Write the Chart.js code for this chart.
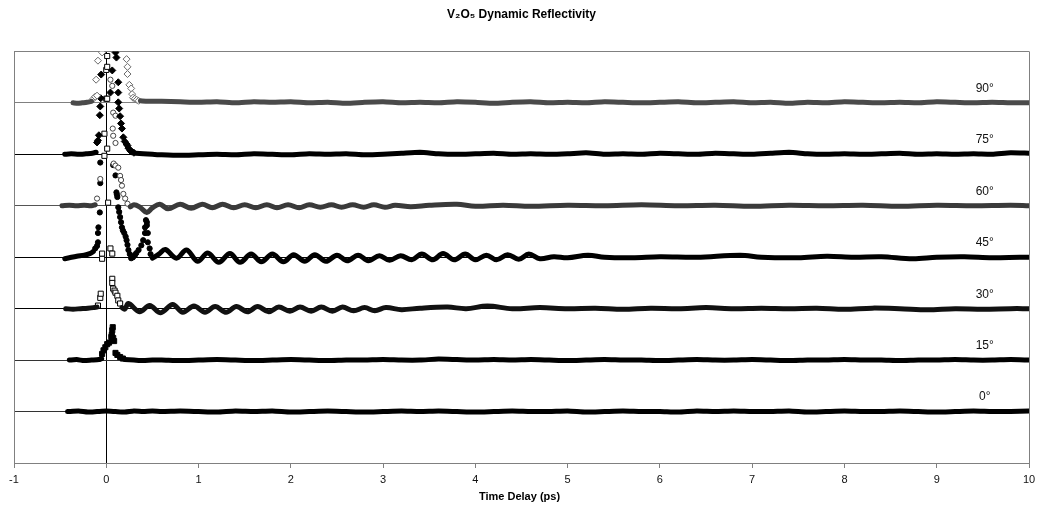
<!DOCTYPE html>
<html>
<head>
<meta charset="utf-8">
<script src="https://cdn.jsdelivr.net/npm/chart.js@4.4.1/dist/chart.umd.min.js"></script>
<style>
  html, body { margin: 0; padding: 0; background: #fff; }
</style>
</head>
<body>
<canvas id="chart" width="1038" height="510"></canvas>
<script>
const angles = ["90°", "75°", "60°", "45°", "30°", "15°", "0°"];
const offsets = [6, 5, 4, 3, 2, 1, 0];
const xTicks = [-1, 0, 1, 2, 3, 4, 5, 6, 7, 8, 9, 10];
const yLines = [-1, 0, 1, 2, 3, 4, 5, 6, 7];

// shared sampling of the flat tails, ps
const coarseTime = [0.6, 0.8, 1.0, 1.2, 1.4, 1.6, 1.8, 2.0, 2.2, 2.4, 2.6, 2.8, 3.0, 3.2, 3.4, 3.6,
  3.8, 4.0, 4.2, 4.4, 4.6, 4.8, 5.0, 5.2, 5.4, 5.6, 5.8, 6.0, 6.2, 6.4, 6.6, 6.8, 7.0, 7.2, 7.4,
  7.6, 7.8, 8.0, 8.2, 8.4, 8.6, 8.8, 9.0, 9.2, 9.4, 9.6, 9.8, 10.0];

// 90°
const pre90T = [-0.36, -0.31, -0.26, -0.21, -0.16];
const pre90R = [0.0, -0.01, 0.0, 0.01, 0.03];
const spike90T = [-0.14, -0.12, -0.10, -0.11, -0.09, -0.045, 0.22, 0.23, 0.23, 0.25, 0.27, 0.28, 0.29, 0.31, 0.33, 0.35];
const spike90R = [0.08, 0.12, 0.14, 0.45, 0.82, 0.98, 0.85, 0.70, 0.56, 0.35, 0.28, 0.17, 0.10, 0.08, 0.06, 0.04];
const post90T = [0.37, 0.45, ...coarseTime];
const post90R = [0.04, 0.03, 0.03, 0.02, 0.01, 0.02, 0.0, 0.02, 0.01, 0.02, 0.0, 0.01,
  -0.01, 0.01, 0.02, 0.0, 0.01, 0.0, 0.02, 0.01, -0.01, 0.01, 0.02, 0.0, 0.01, 0.0, 0.02, 0.01,
  0.0, 0.01, 0.02, 0.0, 0.01, 0.02, 0.0, 0.01, -0.01, 0.01, 0.0, 0.02, 0.01, 0.0, 0.01, 0.0,
  0.02, 0.01, 0.0, 0.01, 0.0, 0.0];

// 75°
const pre75T = [-0.45, -0.38, -0.30, -0.22, -0.15, -0.11];
const pre75R = [0.0, 0.01, 0.0, 0.01, 0.02, 0.04];
const spike75T = [-0.10, -0.09, -0.08, -0.07, -0.065, -0.06, -0.055, 0.045, 0.065, 0.10, 0.11, 0.13, 0.13, 0.13,
  0.14, 0.15, 0.16, 0.17, 0.185, 0.20, 0.22, 0.23, 0.24, 0.26, 0.28, 0.30];
const spike75R = [0.23, 0.27, 0.37, 0.76, 0.93, 1.09, 1.55, 1.20, 1.63, 1.98, 1.88, 1.40, 1.20, 1.01,
  0.89, 0.74, 0.60, 0.50, 0.33, 0.25, 0.20, 0.17, 0.12, 0.07, 0.05, 0.03];
const post75T = [0.32, 0.4, 0.5, ...coarseTime];
const post75R = [0.02, 0.01, 0.0, -0.01, -0.02, -0.01, 0.0, -0.01, 0.01, 0.0, -0.01, 0.01, 0.0,
  0.01, -0.01, 0.0, 0.02, 0.04, 0.01, 0.0, 0.01, 0.02, 0.0, 0.01, 0.0, 0.01, 0.03, 0.0, 0.01,
  0.0, 0.02, 0.01, 0.0, 0.02, 0.01, 0.0, 0.02, 0.04, 0.01, 0.0, 0.01, 0.0, 0.01, 0.02, 0.0,
  0.01, 0.0, 0.01, 0.0, 0.03, 0.02];

// 60°
const pre60T = [-0.48, -0.40, -0.32, -0.24, -0.16, -0.12];
const pre60R = [0.0, 0.01, 0.0, 0.01, 0.0, 0.02];
const spike60T = [-0.10, -0.065, 0.045, 0.065, 0.07, 0.075, 0.075, 0.08, 0.10, 0.10, 0.10, 0.13, 0.15, 0.16, 0.17, 0.185, 0.205, 0.23];
const spike60R = [0.14, 0.52, 2.45, 2.33, 1.50, 1.81, 1.36, 0.82, 1.75, 1.22, 0.78, 0.74, 0.58, 0.50, 0.39, 0.23, 0.14, 0.04];
const post60T = [0.26, 0.30, 0.36, 0.44, 0.50, 0.58, 0.67, 0.80, 0.92, 1.04, 1.15, 1.26, 1.38, 1.50,
  1.62, 1.74, 1.85, 1.97, 2.09, 2.20, 2.32, 2.44, 2.55, 2.67, 2.79, 2.90, 3.02, 3.13, 3.3, 3.5,
  3.8, 4.0, 4.3, 4.6, 5.0, 5.4, 5.8, 6.2, 6.6, 7.0, 7.4, 7.8, 8.2, 8.6, 9.0, 9.4, 9.8, 10.0];
const post60R = [-0.02, 0.02, -0.02, -0.13, -0.04, 0.03, -0.06, 0.03, -0.05, 0.03, -0.04, 0.03, -0.04, 0.02,
  -0.04, 0.02, -0.04, 0.02, -0.04, 0.02, -0.03, 0.02, -0.03, 0.02, -0.03, 0.02, -0.03, 0.01, -0.02, 0.01,
  0.03, -0.01, 0.01, -0.01, 0.01, 0.0, 0.02, 0.0, 0.01, -0.01, 0.01, 0.0, 0.01, -0.01, 0.01, 0.0, 0.01, 0.0];

// 45°
const pre45T = [-0.45, -0.40, -0.32, -0.24, -0.18, -0.14];
const pre45R = [-0.03, -0.01, 0.02, 0.04, 0.07, 0.11];
const spike45T = [-0.12, -0.10, -0.09, -0.09, -0.085, -0.07, -0.065, -0.065, 0.075, 0.10, 0.11, 0.115, 0.12, 0.13,
  0.14, 0.15, 0.16, 0.17, 0.18, 0.195, 0.21, 0.22, 0.23, 0.24, 0.255, 0.27, 0.29, 0.31, 0.325, 0.35,
  0.38, 0.40, 0.42, 0.42, 0.43, 0.44, 0.44, 0.45, 0.45, 0.47, 0.48];
const spike45R = [0.17, 0.22, 0.29, 0.47, 0.58, 0.87, 1.44, 1.84, 1.79, 1.59, 1.26, 1.22, 1.17, 0.97,
  0.88, 0.78, 0.68, 0.58, 0.52, 0.47, 0.40, 0.33, 0.24, 0.14, 0.06, -0.02, 0.0, 0.04, 0.08, 0.14,
  0.23, 0.33, 0.47, 0.58, 0.72, 0.68, 0.62, 0.47, 0.29, 0.17, 0.06];
const post45T = [0.50, 0.57, 0.64, 0.76, 0.87, 0.99, 1.10, 1.22, 1.34, 1.45, 1.57, 1.68, 1.80, 1.92,
  2.03, 2.15, 2.26, 2.38, 2.50, 2.61, 2.73, 2.84, 2.96, 3.07, 3.19, 3.31, 3.42, 3.54, 3.65, 3.77,
  3.89, 4.00, 4.12, 4.23, 4.35, 4.47, 4.58, 4.70, 4.85, 5.0, 5.22, 5.4, 5.7, 6.0, 6.4, 6.87, 7.1,
  7.5, 7.81, 8.1, 8.4, 8.74, 9.0, 9.3, 9.6, 9.9, 10.0];
const post45R = [-0.02, 0.06, 0.15, -0.02, 0.14, -0.08, 0.08, -0.10, 0.07, -0.10, 0.06, -0.09, 0.06, -0.09,
  0.05, -0.08, 0.05, -0.08, 0.04, -0.07, 0.04, -0.07, 0.03, -0.06, 0.03, -0.05, 0.06, -0.05, 0.07, -0.05,
  0.06, -0.05, 0.04, -0.05, 0.05, -0.04, 0.06, -0.03, 0.01, -0.01, 0.04, 0.0, -0.01, 0.01, 0.0, 0.04, 0.0,
  -0.01, 0.02, 0.0, 0.01, -0.03, 0.0, 0.01, -0.01, 0.0, 0.0];

// 30°
const pre30T = [-0.44, -0.36, -0.28, -0.20, -0.14, -0.10];
const pre30R = [0.0, -0.01, 0.0, 0.01, 0.02, 0.03];
const spike30T = [-0.09, -0.065, -0.06, -0.045, -0.045, -0.02, -0.02, 0.0, 0.0, 0.01, 0.01, 0.01, 0.01, 0.02,
  0.045, 0.065, 0.065, 0.065, 0.075, 0.09, 0.10, 0.12, 0.13, 0.15];
const spike30R = [0.06, 0.21, 0.29, 0.97, 1.07, 2.97, 3.40, 4.08, 4.64, 4.91, 4.70, 4.08, 3.11, 2.06,
  1.17, 1.07, 0.58, 0.50, 0.39, 0.35, 0.31, 0.25, 0.16, 0.10];
const post30T = [0.17, 0.20, 0.24, 0.36, 0.47, 0.59, 0.72, 0.83, 0.95, 1.07, 1.18, 1.30, 1.41, 1.53,
  1.64, 1.76, 1.87, 1.99, 2.10, 2.22, 2.33, 2.45, 2.56, 2.68, 2.80, 2.91, 3.03, 3.2, 3.4, 3.7,
  3.9, 4.13, 4.4, 4.7, 5.0, 5.3, 5.6, 5.9, 6.2, 6.5, 6.8, 7.1, 7.4, 7.7, 8.0, 8.3, 8.6, 8.9, 9.2,
  9.5, 9.8, 10.0];
const post30R = [0.02, -0.01, 0.10, -0.06, 0.06, -0.08, 0.08, -0.07, 0.05, -0.07, 0.04, -0.07, 0.04, -0.06,
  0.04, -0.06, 0.03, -0.05, 0.03, -0.05, 0.03, -0.05, 0.03, -0.04, 0.02, -0.04, 0.02, -0.02, 0.01, 0.03,
  0.0, 0.05, 0.0, 0.02, 0.0, 0.01, -0.01, 0.01, 0.0, 0.02, 0.0, 0.01, 0.0, 0.01, -0.01, 0.01, 0.0, -0.02,
  0.0, -0.01, 0.0, 0.0];

// 15°
const pre15T = [-0.40, -0.32, -0.24, -0.16, -0.08, -0.05];
const pre15R = [0.0, 0.01, -0.01, 0.0, 0.01, 0.03];
const spike15T = [-0.045, -0.03, -0.01, 0.01, 0.03, 0.055, 0.06, 0.065, 0.07, 0.075, 0.085, 0.10, 0.12, 0.15, 0.18];
const spike15R = [0.12, 0.19, 0.25, 0.31, 0.34, 0.45, 0.49, 0.58, 0.64, 0.43, 0.37, 0.14, 0.10, 0.06, 0.03];
const post15T = [0.2, 0.3, 0.4, 0.5, ...coarseTime];
const post15R = [0.01, 0.0, -0.01, 0.0, 0.0, -0.01, 0.0, 0.01, 0.0, -0.01, 0.0, 0.01, 0.0, -0.01,
  0.0, 0.0, 0.01, 0.0, 0.0, 0.02, 0.01, 0.0, 0.01, 0.0, 0.01, 0.0, -0.01, 0.0, 0.01, 0.0, 0.0, -0.01,
  0.0, 0.01, 0.0, 0.0, 0.01, 0.0, -0.01, 0.0, 0.0, 0.01, 0.0, 0.0, -0.01, 0.0, 0.0, 0.01, 0.0, 0.0,
  0.01, 0.0];

// 0°
const post0T = [-0.42, -0.3, -0.2, -0.1, 0.0, 0.1, 0.2, 0.3, 0.4, 0.5, ...coarseTime];
const post0R = [0.0, 0.01, -0.01, 0.0, 0.01, 0.0, -0.01, 0.01, 0.0, 0.01, 0.0, 0.01, 0.0, -0.01,
  0.01, 0.0, 0.01, -0.01, 0.0, 0.01, 0.0, -0.01, 0.0, 0.01, 0.0, 0.01, 0.0, -0.01, 0.0, 0.01, 0.0,
  0.0, 0.01, -0.01, 0.0, 0.01, 0.0, 0.0, -0.01, 0.01, 0.0, 0.01, 0.0, 0.0, 0.01, -0.01, 0.0, 0.01,
  0.0, 0.0, 0.01, 0.0, -0.01, 0.0, 0.01, 0.0, 0.0, 0.01];

const labelTime = 9.52;
const labelRise = 0.28;
const xTitle = "Time Delay (ps)";
const FONT = '"Liberation Sans", Arial, sans-serif';

const traces = [
  { pre: [pre90T, pre90R], spike: [spike90T, spike90R], post: [post90T, post90R],
    band: "#4a4a4a", shape: "rectRot", fill: "#ffffff", edge: "#6a6a6a", r: 3.5, tension: 0.2 },
  { pre: [pre75T, pre75R], spike: [spike75T, spike75R], post: [post75T, post75R],
    band: "#000000", shape: "rectRot", fill: "#000000", edge: "#000000", r: 3.5, tension: 0.2 },
  { pre: [pre60T, pre60R], spike: [spike60T, spike60R], post: [post60T, post60R],
    band: "#3a3a3a", shape: "circle", fill: "#ffffff", edge: "#444444", r: 2.6, tension: 0.35 },
  { pre: [pre45T, pre45R], spike: [spike45T, spike45R], post: [post45T, post45R],
    band: "#000000", shape: "circle", fill: "#000000", edge: "#000000", r: 2.6, tension: 0.35 },
  { pre: [pre30T, pre30R], spike: [spike30T, spike30R], post: [post30T, post30R],
    band: "#111111", shape: "rect", fill: "#ffffff", edge: "#000000", r: 3.6, tension: 0.35 },
  { pre: [pre15T, pre15R], spike: [spike15T, spike15R], post: [post15T, post15R],
    band: "#000000", shape: "rect", fill: "#000000", edge: "#000000", r: 3.6, tension: 0.2 },
  { pre: null, spike: null, post: [post0T, post0R],
    band: "#000000", shape: "triangle", fill: "#000000", edge: "#000000", r: 3, tension: 0.2 }
];

const lineColors = { "-1": "rgba(0,0,0,0)", "0": "#333333", "1": "#333333", "2": "#000000",
  "3": "#000000", "4": "#555555", "5": "#000000", "6": "#808080", "7": "#808080" };

function toPoints(pair, off) {
  const [T, R] = pair;
  return T.map((t, i) => ({ x: t, y: R[i] + off }));
}

function bandSet(pair, off, t) {
  return {
    data: toPoints(pair, off),
    showLine: true,
    borderColor: t.band,
    borderWidth: 5,
    borderJoinStyle: "round",
    borderCapStyle: "round",
    tension: t.tension,
    pointRadius: 0,
    fill: false
  };
}

const datasets = [];
traces.forEach((t, i) => {
  const off = offsets[i];
  if (t.pre) datasets.push(bandSet(t.pre, off, t));
  datasets.push(bandSet(t.post, off, t));
  if (t.spike) {
    datasets.push({
      data: toPoints(t.spike, off),
      showLine: false,
      pointStyle: t.shape,
      pointRadius: t.r,
      pointBackgroundColor: t.fill,
      pointBorderColor: t.edge,
      pointBorderWidth: 1
    });
  }
});

// angle labels at the right end of each trace, plus the x axis title
const angleLabels = {
  id: "angleLabels",
  afterDraw(chart) {
    const { ctx, chartArea, scales: { x, y } } = chart;
    ctx.save();
    ctx.font = "12px " + FONT;
    ctx.fillStyle = "#111";
    ctx.textAlign = "center";
    ctx.textBaseline = "middle";
    angles.forEach((a, i) => {
      ctx.fillText(a, x.getPixelForValue(labelTime), y.getPixelForValue(offsets[i] + labelRise));
    });
    ctx.font = "bold 11px " + FONT;
    ctx.fillStyle = "#000";
    ctx.fillText(xTitle, (chartArea.left + chartArea.right) / 2 - 2, chartArea.bottom + 34);
    ctx.restore();
  }
};

new Chart(document.getElementById("chart"), {
  type: "scatter",
  data: { datasets },
  options: {
    responsive: false,
    animation: false,
    layout: { padding: { left: 14, right: 9, top: 0, bottom: 0 } },
    plugins: {
      legend: { display: false },
      tooltip: { enabled: false },
      title: {
        display: true,
        text: "V₂O₅ Dynamic Reflectivity",
        color: "#000",
        font: { family: FONT, size: 12, weight: "bold" },
        padding: { top: 7, bottom: 30 }
      }
    },
    scales: {
      x: {
        type: "linear",
        min: -1,
        max: 10,
        afterBuildTicks: axis => { axis.ticks = xTicks.map(v => ({ value: v })); },
        afterFit: axis => {
          axis.height = 47;
          axis.paddingLeft = 0;
          axis.paddingRight = 0;
        },
        ticks: { color: "#111", font: { family: FONT, size: 11 }, padding: 5, maxRotation: 0,
          callback: v => String(v) },
        grid: {
          color: c => c.tick && c.tick.value === 0 ? "#000000"
            : (c.tick && c.tick.value === 10 ? "#808080" : "rgba(0,0,0,0)"),
          tickColor: "#808080",
          tickLength: 5
        },
        border: { color: "#808080" }
      },
      y: {
        type: "linear",
        min: -1,
        max: 7,
        afterBuildTicks: axis => { axis.ticks = yLines.map(v => ({ value: v })); },
        ticks: { display: false },
        grid: {
          color: c => c.tick ? lineColors[String(c.tick.value)] : "rgba(0,0,0,0)",
          drawTicks: false
        },
        border: { color: "#808080" }
      }
    }
  },
  plugins: [angleLabels]
});
</script>
</body>
</html>
